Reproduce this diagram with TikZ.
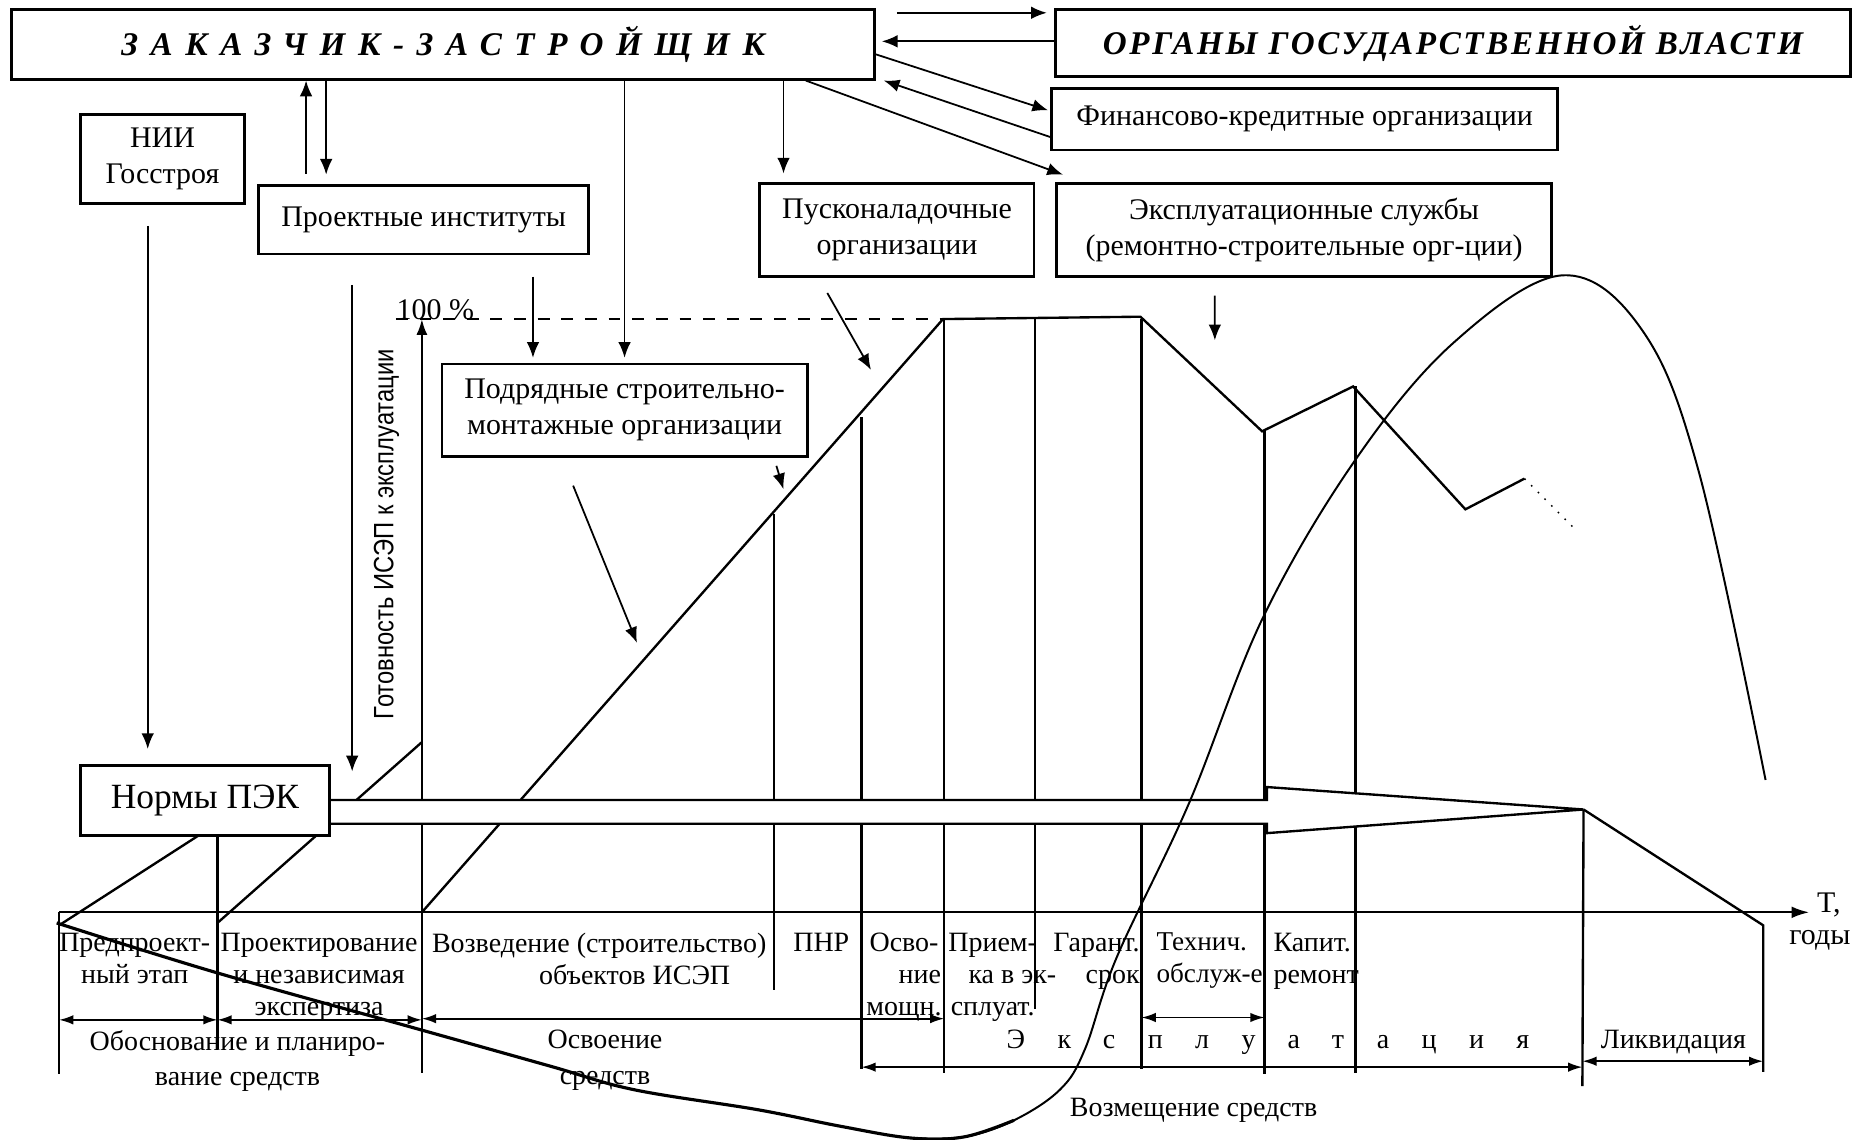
\documentclass[tikz,border=0pt]{standalone}
\usepackage{fontspec}
\setmainfont{Liberation Serif}
\newfontfamily\axisfont[FakeStretch=0.85]{Liberation Sans}
\usetikzlibrary{arrows.meta}

\tikzset{
  box/.style={draw, line width=0.7pt, fill=white, align=center, inner sep=0pt,
    font=\fontsize{7.6}{9}\selectfont},
  link/.style={-{Latex[length=4pt,width=3.2pt]}, line width=0.45pt},
  linkback/.style={{Latex[length=4pt,width=3.2pt]}-, line width=0.45pt},
  span/.style={{Latex[length=3.6pt,width=2.4pt]}-{Latex[length=3.6pt,width=2.4pt]}, line width=0.45pt},
  chart/.style={line width=0.6pt},
  lab/.style={inner sep=0pt, anchor=north, align=center, font=\fontsize{7.1}{8.1}\selectfont},
  lab2/.style={lab, font=\fontsize{7.1}{9}\selectfont},
}

\begin{document}
\begin{tikzpicture}[x=0.3pt, y=-0.3pt]
\useasboundingbox (0,0) rectangle (1568,964);

% participants
\node[box, minimum width=219pt, minimum height=17.7pt] (Z) at (375,37.5)
  {\fontsize{8.4}{10}\selectfont\bfseries\itshape\addfontfeature{LetterSpace=38}ЗАКАЗЧИК-ЗАСТРОЙЩИК};
\node[box, minimum width=201.9pt, minimum height=17.1pt] (O) at (1229.5,36.5)
  {\fontsize{8.4}{10}\selectfont\bfseries\itshape\addfontfeature{LetterSpace=8}ОРГАНЫ ГОСУДАРСТВЕННОЙ ВЛАСТИ};
\node[box, minimum width=128.4pt, minimum height=15.6pt] (F) at (1104,101) {Финансово-кредитные организации};
\node[box, minimum width=41.7pt, minimum height=22.5pt] (NII) at (137.5,134.5) {НИИ\\Госстроя};
\node[box, minimum width=83.7pt, minimum height=17.4pt] (PI) at (358.5,186) {Проектные институты};
\node[box, minimum width=69.6pt, minimum height=23.7pt] (PN) at (759,194.5) {Пусконаладочные\\организации};
\node[box, minimum width=125.7pt, minimum height=23.7pt] (E) at (1103.5,194.5)
  {Эксплуатационные службы\\(ремонтно-строительные орг-ции)};
\node[box, minimum width=92.7pt, minimum height=23.4pt] (SMO) at (528.5,347)
  {Подрядные строительно-\\монтажные организации};

% readiness chart
\draw[chart] (50,783) -- (168,707);
\draw[chart] (184,781) -- (357,628);
\draw[chart] (357,772) -- (798,270) -- (965,268) -- (1068,365) -- (1145,327) -- (1240,431) -- (1290,405);
\draw[dotted, line width=0.4pt] (1290,405) -- (1332,447);
\foreach \x/\t/\b in {50/772/909, 184/707/888, 357/772/908, 655/435/838, 729/353/905,
    799/270/908, 876/270/854, 966/270/905, 1070/365/909, 1147/327/908}
  \draw[chart] (\x,\t) -- (\x,\b);
\draw[chart, -{Latex[length=4pt,width=2.8pt]}] (357,772) -- (357,270);
\draw[dashed, line width=0.5pt] (335,270) -- (798,270);
\node[anchor=south west, inner sep=0pt, font=\fontsize{7.6}{9}\selectfont] (pct) at (335,271) {100 \%};
\node[rotate=90, inner sep=0pt, font=\axisfont\fontsize{7.1}{8}\selectfont] (ready) at (327,452)
  {Готовность ИСЭП к эксплуатации};

% norms band
\draw[chart, fill=white] (279,677) -- (1072,677) -- (1072,666) -- (1340,685) coordinate (tip)
  -- (1072,705) -- (1072,697) -- (279,697);
\node[box, minimum width=63.3pt, minimum height=17.7pt, font=\fontsize{9}{10}\selectfont] (PEK) at (173.5,677.5) {Нормы ПЭК};
\draw[chart] (tip) -- (1492,783) -- (1492,907);
\draw[chart] (tip) -- (1339,919);

% time axis
\draw[chart, -{Latex[length=4.5pt,width=3pt]}] (50,772) -- (1531,772);
\node[anchor=west, inner sep=0pt, font=\fontsize{7.6}{9}\selectfont] (T) at (1537,766) {T,};
\node[inner sep=0pt, font=\fontsize{7.6}{9}\selectfont] (years) at (1540,796) {годы};

% stages
\node[lab] (s1) at (114,789) {Предпроект-\\ный этап};
\node[lab] (s2) at (270,789) {Проектирование\\и независимая\\экспертиза};
\node[lab] (s3) at (507,789) {Возведение (строительство)\\\hspace*{18pt}объектов ИСЭП};
\node[lab] (s4) at (695,789) {ПНР};
\node[lab] (s5) at (765,789) {Осво-\\\hspace*{8pt}ние\\мощн.};
\node[lab] (s6) at (840,789) {Прием-\\\hspace*{10pt}ка в эк-\\сплуат.};
\node[lab, anchor=north east, align=right] (s7) at (965,789) {Гарант.\\срок};
\node[lab, anchor=north west, align=left, font=\fontsize{6.9}{8.1}\selectfont] (s8) at (978,789) {Технич.\\обслуж-е};
\node[lab, anchor=north west, align=left] (s9) at (1077,789) {Капит.\\ремонт};

% periods
\draw[span] (50,863) -- (184,863);
\draw[span] (184,863) -- (357,863);
\draw[span] (357,862) -- (799,862);
\draw[span] (966,861) -- (1070,861);
\draw[span] (729,903) -- (1339,903);
\draw[span] (1339,898) -- (1492,898);
\node[lab2] (p1) at (201,871) {Обоснование и планиро-\\вание средств};
\node[lab2] (p2) at (512,871) {Освоение\\средств};
\node[lab2] (p3) at (1073,871) {\addfontfeature{LetterSpace=116}Эксплуатация};
\node[lab2] (p4) at (1416,871) {Ликвидация};
\node[lab2] (p5) at (1010,929) {Возмещение средств};

% connectors
\draw[link, shorten >=1.8pt] ([yshift=-1.2pt]O.north west) ++(-133,0) coordinate (zo) -- (zo -| O.west);
\draw[link, shorten >=1.5pt] ([yshift=0.45pt]O.west) coordinate (oz) -- (oz -| Z.east);
\draw[link, shorten >=0.6pt] ([yshift=-2.55pt]Z.east) -- ([yshift=2.1pt]F.west);
\draw[link] ([yshift=-4.5pt]F.west) -- ([xshift=2pt]Z.south east);
\draw[link] ([xshift=201.9pt]Z.south west) -- ([xshift=2pt,yshift=1.8pt]E.north west);
\draw[link, shorten <=2.7pt] ([xshift=-29.85pt]PI.north) coordinate (pu) -- (pu |- Z.south);
\draw[linkback, shorten <=2.4pt] ([xshift=-24.75pt]PI.north) coordinate (pd) -- (pd |- Z.south);
\draw[link, shorten >=1.2pt] (SMO.north |- Z.south) -- (SMO.north);
\draw[linkback, shorten <=2.1pt] ([xshift=-28.8pt]PN.north) coordinate (pz) -- (pz |- Z.south);
\draw[link, shorten <=5.4pt, shorten >=1.2pt] ([xshift=27.75pt]PI.south) coordinate (ps) -- (ps |- SMO.north);
\draw[link, shorten <=7.5pt, shorten >=-1.8pt] ([xshift=-18.15pt]PI.south) coordinate (pa) -- (pa |- PEK.north);
\draw[link, shorten <=5.4pt, shorten >=3.9pt] ([xshift=-3.75pt]NII.south) coordinate (nn) -- (nn |- PEK.north);
\coordinate (c1) at (1028,288);
\coordinate (c2) at (737,313);
\coordinate (c3) at (663,414);
\coordinate (c4) at (539,544);
\draw[link, shorten <=4.5pt] ([xshift=-22.65pt]E.south) -- (c1);
\draw[link, shorten <=4.4pt] ([xshift=15.3pt]PN.south west) -- (c2);
\draw[link, shorten <=2.2pt] ([xshift=-8.8pt]SMO.south east) -- (c3);
\draw[link, shorten <=7.7pt] ([xshift=30.75pt]SMO.south west) -- (c4);

% hand-drawn overlay stroke
\draw[line width=0.8pt] plot[smooth, tension=0.6] coordinates {(48,781) (183,823) (351,870) (465,902)
  (536,922) (641,939) (711,953) (771,963) (816,962) (858,948)};
\draw[line width=0.5pt] plot[smooth, tension=0.6] coordinates {(771,963) (816,962) (858,948) (897,922)
  (918,888) (945,810) (1006,680) (1069,522) (1147,389) (1230,290) (1322,233) (1390,280) (1438,401) (1494,660)};

\end{tikzpicture}
\end{document}
